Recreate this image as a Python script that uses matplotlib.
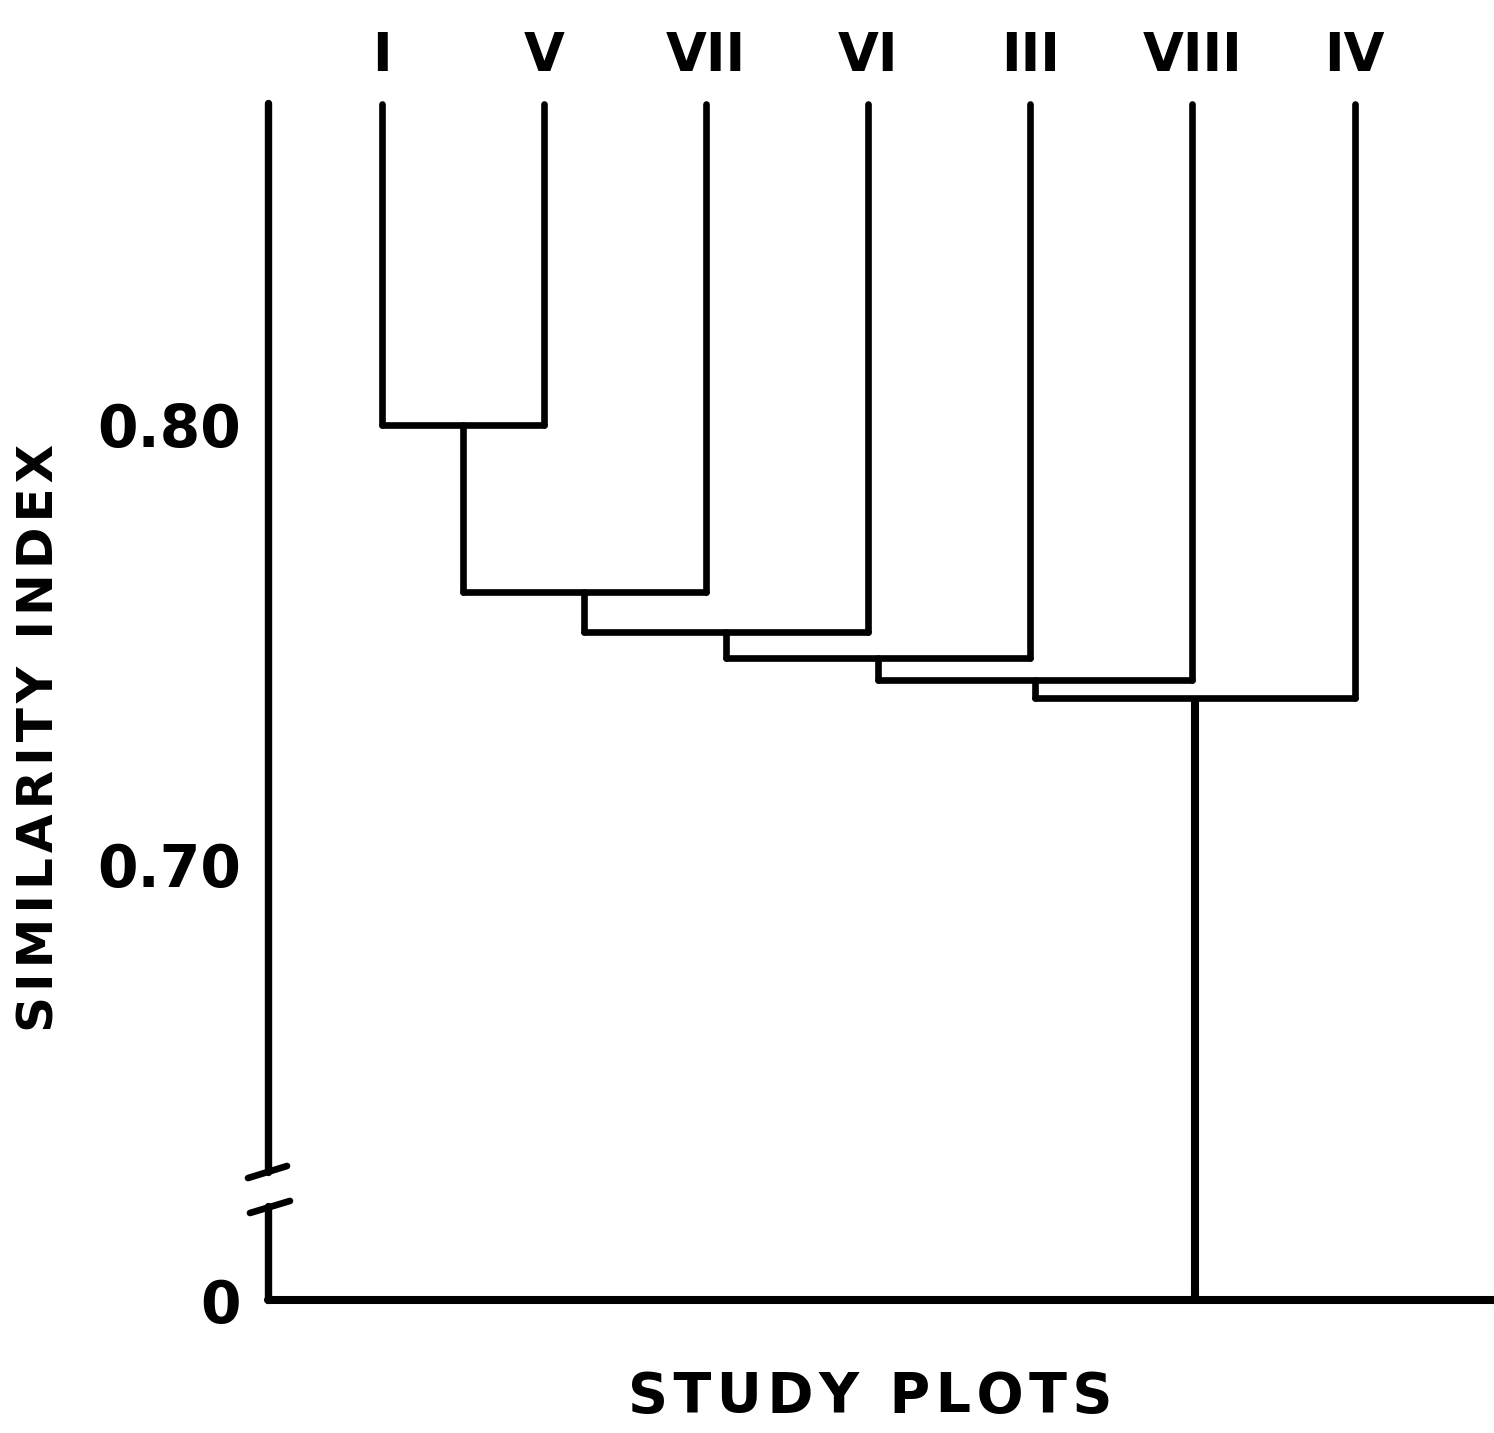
import numpy as np
import matplotlib
matplotlib.use("Agg")
import matplotlib.pyplot as plt

# ---- data ----
leaf_labels = ["I", "V", "VII", "VI", "III", "VIII", "IV"]
merge_heights = [0.800, 0.762, 0.753, 0.747, 0.742, 0.738]  # successive joins of next leaf
leaf_top = 0.873
y_ticks = [0.0, 0.70, 0.80]
y_tick_labels = ["0", "0.70", "0.80"]

# ---- broken scale: compress values below b ----
b, k = 0.64, 0.0608
def fwd(v):
    v = np.asarray(v, dtype=float)
    return np.where(v >= b, v, b - (b - v) * k)
def inv(u):
    u = np.asarray(u, dtype=float)
    return np.where(u >= b, u, b - (b - u) / k)

W, H = 1494, 1433
fig = plt.figure(figsize=(W / 100, H / 100), dpi=100)
ax = fig.add_axes([268 / W, 1 - 1300 / H, 1 - 268 / W, (1300 - 95) / H])
ax.set_yscale("function", functions=(fwd, inv))
ax.set_ylim(0, 0.875)
ax.set_xlim(-0.70, 6.86)

LW = 4.8
col = "black"
xs = list(range(len(leaf_labels)))
cur_x = xs[0]
ax.plot([xs[0], xs[0]], [leaf_top, merge_heights[0]], color=col, lw=LW, solid_capstyle="round")
prev_h = leaf_top
for i, h in enumerate(merge_heights):
    nx = xs[i + 1]
    if i > 0:
        ax.plot([cur_x, cur_x], [prev_h, h], color=col, lw=LW, solid_capstyle="round")
    ax.plot([nx, nx], [leaf_top, h], color=col, lw=LW, solid_capstyle="round")
    ax.plot([cur_x, nx], [h, h], color=col, lw=LW, solid_capstyle="round")
    cur_x = (cur_x + nx) / 2
    prev_h = h
ax.plot([cur_x, cur_x], [prev_h, 0], color=col, lw=LW + 1, solid_capstyle="butt")

# axes decorations
for s in ["top", "right", "left"]:
    ax.spines[s].set_visible(False)
ax.spines["bottom"].set_linewidth(LW + 1)
ax.spines["bottom"].set_capstyle("round")
ta = ax.transAxes
ax.plot([0, 0], [0.9934, 0.1062], transform=ta, color=col, lw=LW + 0.5, clip_on=False, solid_capstyle="round")
ax.plot([0, 0], [0.078, 0.0], transform=ta, color=col, lw=LW + 0.5, clip_on=False, solid_capstyle="round")
ax.plot([-0.0163, 0.0155], [0.1012, 0.1112], transform=ta, color=col, lw=LW, clip_on=False, solid_capstyle="round")
ax.plot([-0.0147, 0.0179], [0.0722, 0.0822], transform=ta, color=col, lw=LW, clip_on=False, solid_capstyle="round")

ax.set_xticks(xs, leaf_labels)
ax.tick_params(axis="x", top=False, bottom=False, labeltop=True, labelbottom=False, pad=6,
               labelsize=38)
for t in ax.get_xticklabels():
    t.set_fontweight("bold")
ax.set_yticks(y_ticks, y_tick_labels)
ax.yaxis.set_minor_locator(matplotlib.ticker.NullLocator())
ax.tick_params(axis="y", left=False, pad=16, labelsize=42)
for t in ax.get_yticklabels():
    t.set_fontweight("bold")

hs = "\u200a"
fig.text(40 / W, 1 - 738 / H, hs.join("SIMILARITY INDEX"), rotation=90, ha="center", va="center",
         fontsize=36, fontweight="bold")
fig.text(870 / W, 1 - 1397 / H, hs.join("STUDY PLOTS"), ha="center", va="center",
         fontsize=40, fontweight="bold")

fig.savefig("out.png", dpi=100, facecolor="white")
